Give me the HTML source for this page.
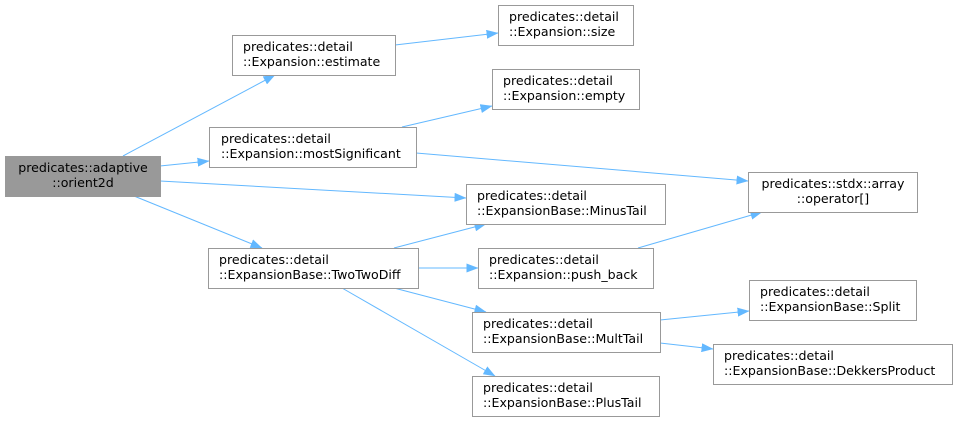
<!DOCTYPE html>
<html><head><meta charset="utf-8"><style>
html,body{margin:0;padding:0;background:#fff;}
svg{display:block;}
text{font-family:"DejaVu Sans","Liberation Sans",sans-serif;font-size:12.6px;fill:#000;}
</style></head><body>
<svg width="957" height="421" viewBox="0 0 957 421" xmlns="http://www.w3.org/2000/svg">
<defs>
<marker id="a" markerWidth="12" markerHeight="9" refX="11.5" refY="4.5" orient="auto" markerUnits="userSpaceOnUse">
<path d="M0,0 L12,4.5 L0,9 Z" fill="#63b8ff"/>
</marker>
</defs>
<g stroke="#63b8ff" stroke-width="1" fill="none" marker-end="url(#a)">
<line x1="123" y1="156" x2="275" y2="75"/>
<line x1="160" y1="166" x2="209" y2="161"/>
<line x1="160" y1="181" x2="466" y2="198"/>
<line x1="134" y1="196" x2="262" y2="248"/>
<line x1="395" y1="45" x2="498" y2="33"/>
<line x1="402" y1="127" x2="492" y2="106"/>
<line x1="416" y1="153" x2="748" y2="181"/>
<line x1="394" y1="248" x2="486" y2="224"/>
<line x1="418" y1="268" x2="478" y2="268"/>
<line x1="394" y1="288" x2="486" y2="312"/>
<line x1="342" y1="288" x2="495" y2="376"/>
<line x1="638" y1="248" x2="762" y2="212"/>
<line x1="660" y1="320" x2="749" y2="311"/>
<line x1="660" y1="343" x2="713" y2="349"/>
</g>
<g stroke="#999" stroke-width="1">
<rect x="5.5" y="156.5" width="155" height="40" fill="#999"/>
<rect x="232.5" y="35.5" width="163" height="40" fill="#fff"/>
<rect x="209.5" y="127.5" width="207" height="40" fill="#fff"/>
<rect x="208.5" y="248.5" width="210" height="40" fill="#fff"/>
<rect x="498.5" y="5.5" width="135" height="40" fill="#fff"/>
<rect x="492.5" y="69.5" width="147" height="40" fill="#fff"/>
<rect x="748.5" y="172.5" width="169" height="40" fill="#fff"/>
<rect x="466.5" y="184.5" width="199" height="40" fill="#fff"/>
<rect x="478.5" y="248.5" width="175" height="40" fill="#fff"/>
<rect x="749.5" y="280.5" width="167" height="40" fill="#fff"/>
<rect x="472.5" y="312.5" width="188" height="40" fill="#fff"/>
<rect x="713.5" y="344.5" width="239" height="40" fill="#fff"/>
<rect x="472.5" y="376.5" width="187" height="40" fill="#fff"/>
</g>
<text x="83" y="172" text-anchor="middle">predicates::adaptive</text>
<text x="83" y="187" text-anchor="middle">::orient2d</text>
<text x="243" y="51">predicates::detail</text><text x="243" y="66">::Expansion::estimate</text>
<text x="221" y="143">predicates::detail</text><text x="221" y="158">::Expansion::mostSignificant</text>
<text x="219" y="264">predicates::detail</text><text x="219" y="279">::ExpansionBase::TwoTwoDiff</text>
<text x="509" y="21">predicates::detail</text><text x="509" y="36">::Expansion::size</text>
<text x="503" y="85">predicates::detail</text><text x="503" y="100">::Expansion::empty</text>
<text x="833" y="188" text-anchor="middle">predicates::stdx::array</text><text x="833" y="203" text-anchor="middle">::operator[]</text>
<text x="477" y="200">predicates::detail</text><text x="477" y="215">::ExpansionBase::MinusTail</text>
<text x="489" y="264">predicates::detail</text><text x="489" y="279">::Expansion::push_back</text>
<text x="760" y="296">predicates::detail</text><text x="760" y="311">::ExpansionBase::Split</text>
<text x="483" y="328">predicates::detail</text><text x="483" y="343">::ExpansionBase::MultTail</text>
<text x="724" y="360">predicates::detail</text><text x="724" y="375">::ExpansionBase::DekkersProduct</text>
<text x="483" y="392">predicates::detail</text><text x="483" y="407">::ExpansionBase::PlusTail</text>
</svg>
</body></html>
